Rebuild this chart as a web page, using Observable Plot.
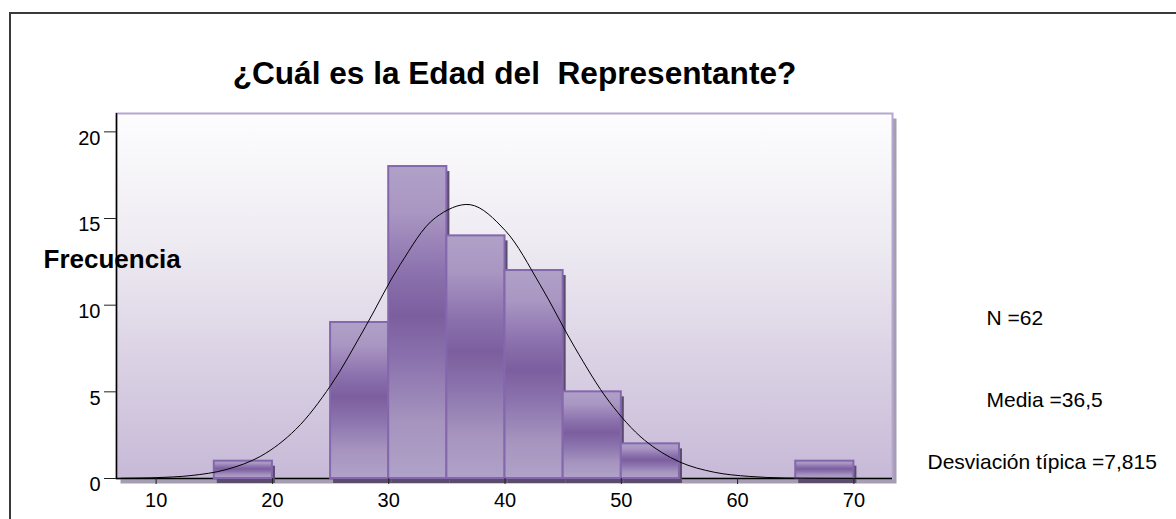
<!DOCTYPE html>
<html>
<head>
<meta charset="utf-8">
<script src="https://cdn.jsdelivr.net/npm/d3@7"></script>
<script src="https://cdn.jsdelivr.net/npm/@observablehq/plot@0.6"></script>
<style>
  body { margin: 0; background: #fff; }
  #wrap { position: relative; width: 1176px; height: 519px; overflow: hidden; }
  #wrap svg { position: absolute; left: 0; top: 0; }
  #border { position: absolute; left: 9px; top: 12px; width: 1300px; height: 700px;
            border-top: 2px solid #3a3a3a; border-left: 2px solid #3a3a3a; pointer-events: none; }
</style>
</head>
<body>
<div id="wrap"><div id="border"></div></div>
<script>
// ---- data ----
const binLower = [15, 25, 30, 35, 40, 45, 50, 65];
const binUpper = [20, 30, 35, 40, 45, 50, 55, 70];
const counts   = [1, 9, 18, 14, 12, 5, 2, 1];

// fitted normal curve as drawn (frequency per 5-year bin)
const curveX = [7, 10, 13, 16, 19, 22, 25, 28, 31, 34, 37, 40, 43, 46, 49, 52, 55, 58, 61, 64, 67, 70, 73];
const curveY = [0.013, 0.05, 0.17, 0.51, 1.29, 2.83, 5.36, 8.76, 12.36, 15.04, 15.80, 14.32, 11.20, 7.56, 4.40, 2.21, 0.96, 0.36, 0.12, 0.03, 0.008, 0.002, 0.0003];

const xTicks = [10, 20, 30, 40, 50, 60, 70];
const yTicks = [0, 5, 10, 15, 20];

const titleText = "¿Cuál es la Edad del\u00a0 Representante?";
const yLabelText = "Frecuencia";
const statLabels = ["N =62", "Media =36,5", "Desviación típica =7,815"];

// ---- tables ----
const bars = binLower.map((lo, i) => ({lo, hi: binUpper[i], count: counts[i]}));
const curve = curveX.map((x, i) => ({x, y: curveY[i]}));

const FONT = "'Liberation Sans', Arial, Helvetica, sans-serif";

const defsMark = () => {
  const defs = d3.create("svg:defs");
  const bg = defs.append("linearGradient").attr("id", "bgGrad")
    .attr("x1", 0).attr("y1", 0).attr("x2", 0).attr("y2", 1);
  bg.append("stop").attr("offset", 0).attr("stop-color", "#fdfdfe");
  bg.append("stop").attr("offset", 0.35).attr("stop-color", "#eeebf2");
  bg.append("stop").attr("offset", 1).attr("stop-color", "#c7b9d7");
  const bar = defs.append("linearGradient").attr("id", "barGrad")
    .attr("x1", 0).attr("y1", 0).attr("x2", 0).attr("y2", 1);
  bar.append("stop").attr("offset", 0).attr("stop-color", "#b0a1c8");
  bar.append("stop").attr("offset", 0.15).attr("stop-color", "#a996c2");
  bar.append("stop").attr("offset", 0.35).attr("stop-color", "#8a70ad");
  bar.append("stop").attr("offset", 0.48).attr("stop-color", "#7c5e9e");
  bar.append("stop").attr("offset", 0.62).attr("stop-color", "#8a72ad");
  bar.append("stop").attr("offset", 0.82).attr("stop-color", "#a694be");
  bar.append("stop").attr("offset", 1).attr("stop-color", "#b0a2c8");
  return defs.node();
};

const textOpts = {text: d => d, lineAnchor: "middle", fill: "#000"};

const plot = Plot.plot({
  width: 1176,
  height: 519,
  marginLeft: 116,
  marginRight: 284,
  marginTop: 113,
  marginBottom: 41,
  style: {fontFamily: FONT, fontSize: "20px", background: "transparent", overflow: "visible", color: "#000"},
  x: {domain: [6.59, 73.32], label: null},
  y: {domain: [0, 21.06], label: null},
  marks: [
    defsMark,
    // plot-area shadow and background
    Plot.frame({fill: "#a59db1", stroke: null, dx: 4, dy: 5}),
    Plot.frame({fill: "url(#bgGrad)", stroke: "#b6a7d2", strokeWidth: 2}),
    Plot.ruleY([0], {stroke: "#000", strokeWidth: 1.5}),
    // bar shadows
    Plot.rect(bars, {x1: "lo", x2: "hi", y1: 0, y2: "count", fill: "#5b4b6d", dx: 3, dy: 5}),
    // bars
    Plot.rect(bars, {x1: "lo", x2: "hi", y1: 0, y2: "count", fill: "url(#barGrad)", stroke: "#8467ad", strokeWidth: 2}),
    // left axis line
    Plot.ruleX([6.59], {stroke: "#000", strokeWidth: 1.5}),
    // normal curve
    Plot.line(curve, {x: "x", y: "y", stroke: "#000", strokeWidth: 1, curve: "catmull-rom"}),
    // axes: y tick marks, then y labels shifted down
    Plot.axisY(yTicks, {anchor: "left", tickSize: 12, fill: "none", stroke: "#222", label: null}),
    Plot.axisY(yTicks, {anchor: "left", tickSize: 0, tickPadding: 16, fontSize: 20, dy: 6.5, label: null}),
    Plot.axisX(xTicks, {anchor: "bottom", tickSize: 6, tickPadding: 8, fontSize: 20, stroke: "#222", label: null}),
    // texts
    Plot.text([titleText], {...textOpts, frameAnchor: "top", textAnchor: "middle",
      dx: 10, dy: -40, fontSize: 31.6, fontWeight: "bold"}),
    Plot.text([yLabelText], {...textOpts, frameAnchor: "top-left", textAnchor: "start",
      dx: -73, dy: 146.5, fontSize: 26, fontWeight: "bold"}),
    Plot.text([statLabels[0]], {...textOpts, frameAnchor: "top-right", textAnchor: "start",
      dx: 94, dy: 204.3, fontSize: 21}),
    Plot.text([statLabels[1]], {...textOpts, frameAnchor: "top-right", textAnchor: "start",
      dx: 94, dy: 286.3, fontSize: 21}),
    Plot.text([statLabels[2]], {...textOpts, frameAnchor: "top-right", textAnchor: "start",
      dx: 35, dy: 348.3, fontSize: 21})
  ]
});

const wrap = document.getElementById("wrap");
wrap.insertBefore(plot, document.getElementById("border"));
</script>
</body>
</html>
